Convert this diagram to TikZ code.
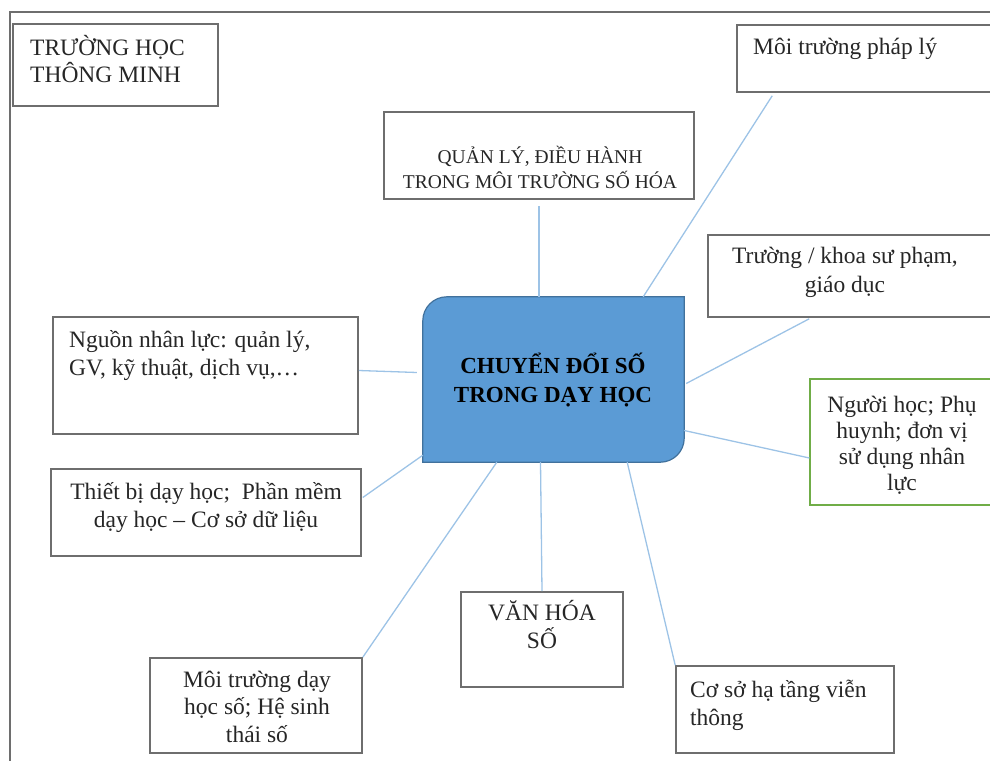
\documentclass[tikz,border=0pt]{standalone}
\usepackage{fontspec}
\setmainfont{Liberation Serif}
\usepackage{xcolor}
\usetikzlibrary{positioning,calc}

\definecolor{boxgrey}{HTML}{6E6E6E}
\definecolor{inkgrey}{HTML}{262626}
\definecolor{linkblue}{HTML}{9DC3E6}
\definecolor{corefill}{HTML}{5B9BD5}
\definecolor{coreedge}{HTML}{41719C}
\definecolor{leafgreen}{HTML}{70AD47}

\begin{document}
\begin{tikzpicture}[
    x=1pt, y=-1pt,
    box/.style={rectangle, draw=boxgrey, line width=1.6pt, inner sep=0pt},
    greenbox/.style={box, draw=leafgreen, line width=1.2pt},
    txt/.style={inner sep=0pt, align=center, text=inkgrey, font=\fontsize{23.5}{27.5}\selectfont},
    txtl/.style={txt, align=left},
    link/.style={draw=linkblue, line width=1.3pt},
    frame/.style={draw=boxgrey, line width=1.6pt}
]
\useasboundingbox (0,0) rectangle (990,760);
\clip (0,0) rectangle (990,760);
\draw[frame] (10,12) rectangle (1010,780);

% Boxes
\node[box, minimum width=205pt, minimum height=82pt] (smart) at (115.5,65) {};
\node[box, minimum width=263pt, minimum height=67pt] (legal) at (868.5,58.5) {};
\node[box, minimum width=310pt, minimum height=87pt] (manage) at (539,155.5) {};
\node[box, minimum width=292pt, minimum height=82pt] (school) at (854,276) {};
\node[greenbox, minimum width=190pt, minimum height=126pt] (learner) at (905,442) {};
\node[box, minimum width=305pt, minimum height=117pt] (staff) at (205.5,375.5) {};
\node[box, minimum width=310pt, minimum height=87pt] (device) at (206,512.5) {};
\node[box, minimum width=162pt, minimum height=95pt] (culture) at (542,639.5) {};
\node[box, minimum width=212pt, minimum height=95pt] (ecosys) at (256,705.5) {};
\node[box, minimum width=218pt, minimum height=87pt] (infra) at (785,709.5) {};

% Core
\node[minimum width=261pt, minimum height=165pt, inner sep=0pt] (core) at (553.5,379.5) {};
\path[fill=corefill, draw=coreedge, line width=1.2pt]
    (core.south west) -- ([yshift=-24pt]core.north west)
    arc[start angle=180, end angle=90, radius=24pt] -- (core.north east)
    -- ([yshift=24pt]core.south east)
    arc[start angle=0, end angle=-90, radius=24pt] -- cycle;

% Texts (base = last line)
\node[txtl, anchor=base west, font=\fontsize{23.5}{27}\selectfont] (smarttxt) at (30,82) {TRƯỜNG HỌC\\THÔNG MINH};
\node[txtl, anchor=base west] (legaltxt) at (753,55) {Môi trường pháp lý};
\node[txt, anchor=base, font=\fontsize{19.5}{25}\selectfont] (managetxt) at (540,188) {QUẢN LÝ, ĐIỀU HÀNH\\TRONG MÔI TRƯỜNG SỐ HÓA};
\node[txt, anchor=base, font=\fontsize{23.5}{29}\selectfont] (schooltxt) at (845,292) {Trường / khoa sư phạm,\\giáo dục};
\node[txt, anchor=base, text=black, font=\fontsize{23}{29}\selectfont\bfseries] (coretxt) at (553,402) {CHUYỂN ĐỔI SỐ\\TRONG DẠY HỌC};
\node[txt, anchor=base, font=\fontsize{23.5}{26}\selectfont] (learnertxt) at (902,490) {Người học; Phụ\\huynh; đơn vị\\sử dụng nhân\\lực};
\node[txtl, anchor=base west, font=\fontsize{23.5}{28}\selectfont] (stafftxt) at (69,375) {Nguồn nhân lực: quản lý,\\GV, kỹ thuật, dịch vụ,…};
\node[txt, anchor=base] (devicetxt) at (206,527) {Thiết bị dạy học;~ Phần mềm\\dạy học – Cơ sở dữ liệu};
\node[txt, anchor=base, font=\fontsize{23.5}{28}\selectfont] (culturetxt) at (542,648) {VĂN HÓA\\SỐ};
\node[txt, anchor=base] (ecosystxt) at (257,742) {Môi trường dạy\\học số; Hệ sinh\\thái số};
\node[txtl, anchor=base west] (infratxt) at (690,725) {Cơ sở hạ tầng viễn\\thông};

% Links
\path[link] (core.north -| manage.south) -- ([yshift=-6pt]manage.south);
\path[link] ($(core.north east)+(-41,0)$) -- ($(legal.south west)+(36,3)$);
\path[link] ($(core.east)+(2,4)$) -- ($(school.south west)+(102,1)$);
\path[link] ($(core.east)+(0,51)$) -- ($(learner.west)+(0,16)$);
\path[link] ($(core.south east)+(-57,0)$) -- (infra.north west);
\path[link] ($(core.south)+(-13,0)$) -- (culture.north);
\path[link] ($(core.south west)+(74,0)$) -- (ecosys.north east);
\path[link] ($(core.south west)+(0,-7)$) -- ($(device.east)+(1,-15)$);
\path[link] ($(core.west)+(-6,-7)$) -- ($(staff.east)+(0,-5)$);

\end{tikzpicture}
\end{document}
